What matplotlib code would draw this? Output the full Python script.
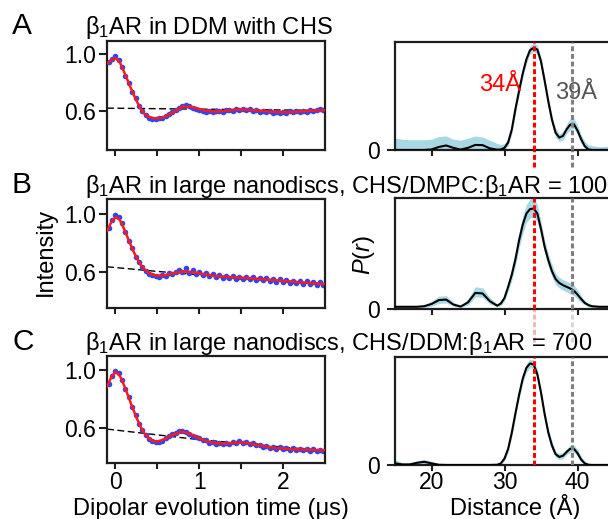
import numpy as np
import matplotlib
matplotlib.use("Agg")
import matplotlib.pyplot as plt

plt.rcParams['font.family'] = ['Liberation Sans', 'DejaVu Sans']
plt.rcParams['mathtext.fontset'] = 'custom'
plt.rcParams['mathtext.rm'] = 'Liberation Sans'
plt.rcParams['mathtext.it'] = 'Liberation Sans:italic'
plt.rcParams['mathtext.bf'] = 'Liberation Sans:bold'

# ---------------- time-domain data ----------------
t_fit = [-0.1, -0.05, 0, 0.05, 0.1, 0.15, 0.2, 0.25, 0.3, 0.35, 0.4, 0.45, 0.5, 0.55, 0.6,
         0.7, 0.8, 0.9, 1.0, 1.1, 1.2, 1.3, 1.4, 1.5, 1.6, 1.7, 1.8, 1.9, 2.0, 2.1, 2.2,
         2.3, 2.4, 2.5]
fit_A = [0.935, 0.955, 0.972, 0.945, 0.88, 0.81, 0.74, 0.675, 0.62, 0.58, 0.56, 0.553, 0.551,
         0.555, 0.565, 0.595, 0.633, 0.632, 0.615, 0.602, 0.598, 0.603, 0.609, 0.612, 0.61,
         0.605, 0.6, 0.596, 0.594, 0.595, 0.598, 0.602, 0.606, 0.608]
fit_B = [0.88, 0.94, 0.975, 0.96, 0.9, 0.83, 0.76, 0.70, 0.65, 0.615, 0.592, 0.58, 0.575,
         0.574, 0.578, 0.592, 0.603, 0.6, 0.59, 0.58, 0.572, 0.566, 0.562, 0.56, 0.556,
         0.552, 0.548, 0.543, 0.538, 0.533, 0.528, 0.524, 0.52, 0.517]
fit_C = [0.885, 0.95, 0.988, 0.965, 0.90, 0.825, 0.747, 0.675, 0.609, 0.56, 0.529, 0.51,
         0.507, 0.515, 0.529, 0.558, 0.575, 0.558, 0.529, 0.507, 0.495, 0.493, 0.497, 0.50,
         0.494, 0.482, 0.471, 0.463, 0.458, 0.455, 0.452, 0.45, 0.448, 0.447]

t_bg = [-0.1, 0.5, 1.0, 1.5, 2.0, 2.5]
bg_A = [0.622, 0.618, 0.615, 0.612, 0.609, 0.606]
bg_B = [0.635, 0.603, 0.58, 0.56, 0.538, 0.517]
bg_C = [0.593, 0.553, 0.52, 0.495, 0.468, 0.445]

t_data = np.round(np.arange(-0.08, 2.49, 0.04), 2)
data_A = [0.945, 0.965, 0.985, 0.96, 0.91, 0.845, 0.80, 0.735, 0.69, 0.635, 0.60, 0.572,
          0.555, 0.548, 0.545, 0.55, 0.553, 0.57, 0.58, 0.595, 0.61, 0.625, 0.64, 0.642,
          0.638, 0.622, 0.615, 0.61, 0.605, 0.598, 0.60, 0.592, 0.60, 0.604, 0.598, 0.61,
          0.612, 0.605, 0.616, 0.608, 0.618, 0.606, 0.613, 0.603, 0.61, 0.598, 0.605, 0.594,
          0.602, 0.59, 0.598, 0.59, 0.598, 0.59, 0.60, 0.592, 0.603, 0.594, 0.605, 0.598,
          0.61, 0.60, 0.612, 0.615, 0.606]
data_B = [0.90, 0.955, 0.99, 0.975, 0.935, 0.875, 0.81, 0.765, 0.705, 0.665, 0.63, 0.605,
          0.585, 0.578, 0.572, 0.568, 0.58, 0.574, 0.59, 0.585, 0.602, 0.61, 0.598, 0.625,
          0.595, 0.61, 0.588, 0.598, 0.578, 0.59, 0.572, 0.583, 0.565, 0.578, 0.56, 0.572,
          0.556, 0.57, 0.553, 0.568, 0.55, 0.565, 0.548, 0.563, 0.545, 0.558, 0.542, 0.556,
          0.538, 0.552, 0.532, 0.55, 0.53, 0.545, 0.525, 0.54, 0.522, 0.538, 0.518, 0.535,
          0.515, 0.53, 0.512, 0.528, 0.51]
data_C = [0.905, 0.96, 0.995, 0.978, 0.93, 0.868, 0.815, 0.745, 0.69, 0.63, 0.585, 0.55,
          0.522, 0.51, 0.502, 0.505, 0.513, 0.532, 0.545, 0.558, 0.568, 0.578, 0.58, 0.575,
          0.558, 0.548, 0.54, 0.532, 0.515, 0.515, 0.50, 0.505, 0.492, 0.50, 0.49, 0.50,
          0.492, 0.505, 0.495, 0.508, 0.496, 0.504, 0.488, 0.495, 0.48, 0.486, 0.468, 0.477,
          0.462, 0.47, 0.456, 0.466, 0.455, 0.462, 0.45, 0.46, 0.448, 0.458, 0.447, 0.456,
          0.445, 0.454, 0.443, 0.452, 0.444]

# ---------------- distance-domain data ----------------
r = [15, 16, 17, 18, 19, 20, 21, 22, 23, 24, 25, 26, 27, 28, 29, 29.5, 30, 30.5, 31, 31.5,
     32, 32.5, 33, 33.5, 34, 34.5, 35, 35.5, 36, 36.5, 37, 37.5, 38, 38.5, 39, 39.5, 40,
     40.5, 41, 41.5, 42, 43, 44, 45]
P_A = [0, 0, 0, 0, 0, 0.005, 0.028, 0.042, 0.02, 0.004, 0.02, 0.047, 0.045, 0.015, 0.003,
       0.005, 0.02, 0.07, 0.19, 0.38, 0.55, 0.71, 0.84, 0.925, 0.945, 0.93, 0.82, 0.64, 0.45,
       0.28, 0.16, 0.115, 0.13, 0.19, 0.235, 0.24, 0.18, 0.1, 0.035, 0.005, 0, 0, 0, 0]
lo_A = [0, 0, 0, 0, 0, 0, 0, 0, 0, 0, 0, 0, 0, 0, 0, 0, 0, 0.04, 0.15, 0.34, 0.51, 0.67,
        0.8, 0.89, 0.91, 0.89, 0.78, 0.6, 0.41, 0.24, 0.12, 0.08, 0.09, 0.15, 0.19, 0.2,
        0.14, 0.06, 0.01, 0, 0, 0, 0, 0]
hi_A = [0.11, 0.1, 0.095, 0.095, 0.095, 0.1, 0.125, 0.13, 0.1, 0.09, 0.11, 0.13, 0.12, 0.09,
        0.06, 0.05, 0.06, 0.11, 0.23, 0.42, 0.59, 0.75, 0.88, 0.965, 0.99, 0.97, 0.86, 0.68,
        0.49, 0.32, 0.2, 0.15, 0.17, 0.24, 0.29, 0.295, 0.23, 0.14, 0.08, 0.05, 0.04, 0.03,
        0.035, 0.05]
P_B = [0.02, 0.02, 0.02, 0.02, 0.025, 0.045, 0.08, 0.085, 0.04, 0.022, 0.06, 0.145, 0.14,
       0.07, 0.03, 0.05, 0.1, 0.2, 0.31, 0.45, 0.62, 0.76, 0.86, 0.9, 0.905, 0.86, 0.72,
       0.56, 0.44, 0.34, 0.27, 0.235, 0.215, 0.2, 0.185, 0.165, 0.13, 0.09, 0.055, 0.035,
       0.025, 0.02, 0.02, 0.02]
lo_B = [0.015, 0.015, 0.015, 0.015, 0.015, 0.025, 0.05, 0.055, 0.025, 0.015, 0.035, 0.11,
        0.105, 0.045, 0.02, 0.03, 0.07, 0.16, 0.26, 0.39, 0.55, 0.68, 0.78, 0.82, 0.83, 0.79,
        0.66, 0.5, 0.39, 0.29, 0.22, 0.19, 0.17, 0.155, 0.14, 0.12, 0.09, 0.06, 0.035, 0.02,
        0.015, 0.015, 0.015, 0.015]
hi_B = [0.03, 0.03, 0.03, 0.03, 0.04, 0.07, 0.115, 0.12, 0.06, 0.03, 0.09, 0.2, 0.19, 0.1,
        0.045, 0.07, 0.13, 0.24, 0.36, 0.51, 0.69, 0.84, 0.94, 0.99, 1.0, 0.94, 0.79, 0.62,
        0.5, 0.4, 0.32, 0.285, 0.265, 0.25, 0.235, 0.215, 0.175, 0.12, 0.075, 0.05, 0.035,
        0.03, 0.03, 0.03]
P_C = [0.015, 0.005, 0.005, 0.02, 0.03, 0.015, 0.002, 0, 0, 0, 0, 0, 0, 0, 0.002, 0.015,
       0.06, 0.15, 0.3, 0.48, 0.65, 0.8, 0.9, 0.94, 0.93, 0.84, 0.67, 0.47, 0.3, 0.18, 0.1,
       0.075, 0.085, 0.12, 0.15, 0.15, 0.11, 0.05, 0.015, 0.002, 0, 0, 0, 0]
lo_C = [0, 0, 0, 0.005, 0.012, 0.003, 0, 0, 0, 0, 0, 0, 0, 0, 0, 0.005, 0.04, 0.12, 0.26,
        0.44, 0.61, 0.76, 0.86, 0.9, 0.89, 0.8, 0.63, 0.43, 0.26, 0.14, 0.07, 0.05, 0.06,
        0.095, 0.12, 0.12, 0.08, 0.03, 0.005, 0, 0, 0, 0, 0]
hi_C = [0.05, 0.02, 0.02, 0.04, 0.05, 0.035, 0.01, 0.003, 0.003, 0.003, 0.003, 0.003, 0.003,
        0.003, 0.008, 0.03, 0.085, 0.18, 0.34, 0.52, 0.69, 0.84, 0.94, 0.98, 0.97, 0.88,
        0.71, 0.51, 0.34, 0.22, 0.13, 0.105, 0.115, 0.15, 0.185, 0.185, 0.145, 0.08, 0.035,
        0.012, 0.005, 0.003, 0.003, 0.003]

r_main, r_second = 34.0, 39.3
titles = [r'$\mathregular{\beta_1}$AR in DDM with CHS',
          r'$\mathregular{\beta_1}$AR in large nanodiscs, CHS/DMPC:$\mathregular{\beta_1}$AR = 1000',
          r'$\mathregular{\beta_1}$AR in large nanodiscs, CHS/DDM:$\mathregular{\beta_1}$AR = 700']
letters = ['A', 'B', 'C']

# ---------------- layout ----------------
W, H = 608, 519
fig = plt.figure(figsize=(W / 100, H / 100), dpi=100)

def rect(x0, x1, top, bot):
    return [x0 / W, 1 - bot / H, (x1 - x0) / W, (bot - top) / H]

left_rects = [rect(107, 325, 41, 150), rect(107, 325, 199, 308), rect(107, 325, 356, 463)]
right_rects = [rect(395, 614, 42, 150), rect(395, 614, 198, 309), rect(395, 614, 357, 465)]
left_ylims = [(0.33, 1.09), (0.352, 1.10), (0.359, 1.097)]
row_base = [34, 193, 350]

fits = [fit_A, fit_B, fit_C]
bgs = [bg_A, bg_B, bg_C]
datas = [data_A, data_B, data_C]
Ps = [P_A, P_B, P_C]
los = [lo_A, lo_B, lo_C]
his = [hi_A, hi_B, hi_C]

spine_c = '#1e1e1e'
FS = 16.5

def style(ax):
    for s in ax.spines.values():
        s.set_linewidth(1.6)
        s.set_color(spine_c)
    ax.tick_params(width=1.5, color=spine_c, labelsize=FS, direction='out')

for i in range(3):
    # left: time domain
    ax = fig.add_axes(left_rects[i])
    style(ax)
    ax.plot(t_bg, bgs[i], color='black', lw=1.0, ls=(0, (5, 2.5)), zorder=1)
    ax.plot(t_data, datas[i], ls='none', marker='o', ms=4.0, mew=0, color='#2a46ff', zorder=2)
    ax.plot(t_fit, fits[i], color='#ff1a1a', lw=1.8, zorder=3)
    ax.set_xlim(-0.1, 2.5)
    ax.set_ylim(*left_ylims[i])
    ax.set_yticks([0.6, 1.0])
    ax.set_yticklabels(['0.6', '1.0'])
    ax.set_xticks([0, 0.5, 1, 1.5, 2])
    ax.tick_params(axis='y', length=5.5, pad=2.5)
    ax.tick_params(axis='x', length=4, pad=1.5)
    if i == 2:
        ax.set_xticklabels(['0', '', '1', '', '2'])
    else:
        ax.set_xticklabels([])

    # right: distance domain
    ax2 = fig.add_axes(right_rects[i])
    style(ax2)
    ax2.fill_between(r, los[i], his[i], color='#a8d8e6', lw=0, zorder=1)
    ax2.plot(r, Ps[i], color='black', lw=1.5, zorder=3)
    ax2.set_xlim(15, 45)
    ax2.set_ylim(0, 1.0)
    ax2.set_yticks([0])
    ax2.set_yticklabels(['0'])
    ax2.set_xticks([20, 30, 40])
    ax2.tick_params(axis='y', length=5.5, pad=5.5)
    ax2.tick_params(axis='x', length=4, pad=0.5)
    if i == 2:
        ax2.set_xticklabels(['20', '30', '40'])
    else:
        ax2.set_xticklabels([])
    ext = [-0.16, -0.3, 0.0][i]
    for xv, col in [(r_main, '#ff0000'), (r_second, '#808080')]:
        ax2.axvline(xv, ymin=0, ymax=1, color=col, lw=2.2, ls=(0, (1.6, 0.9)), zorder=4)
        if ext < 0:
            ax2.axvline(xv, ymin=ext, ymax=0, color=col, lw=2.2, ls=(0, (1.6, 0.9)),
                        zorder=4, clip_on=False, alpha=1.0 if i == 0 else 0.3)
    if i == 0:
        ax2.text(32.3, 0.6, '34Å', color='#ff0000', fontsize=17, ha='right', va='center')
        ax2.text(36.9, 0.53, '39Å', color='#555555', fontsize=17, ha='left', va='center')

    fig.text(12 / W, 1 - row_base[i] / H, letters[i], fontsize=21.5, ha='left', va='baseline')
    fig.text(85 / W, 1 - row_base[i] / H, titles[i], fontsize=17, ha='left', va='baseline')

fig.text(46 / W, 1 - 252 / H, 'Intensity', fontsize=17, rotation=90, ha='center', va='center')
fig.text(364 / W, 1 - 255 / H, r'$P$($r$)', fontsize=17, rotation=90, ha='center', va='center')
fig.text(211 / W, 1 - 515 / H, 'Dipolar evolution time (μs)', fontsize=17, ha='center', va='baseline')
fig.text(515 / W, 1 - 515 / H, 'Distance (Å)', fontsize=17, ha='center', va='baseline')

fig.savefig('out.png', dpi=100)
